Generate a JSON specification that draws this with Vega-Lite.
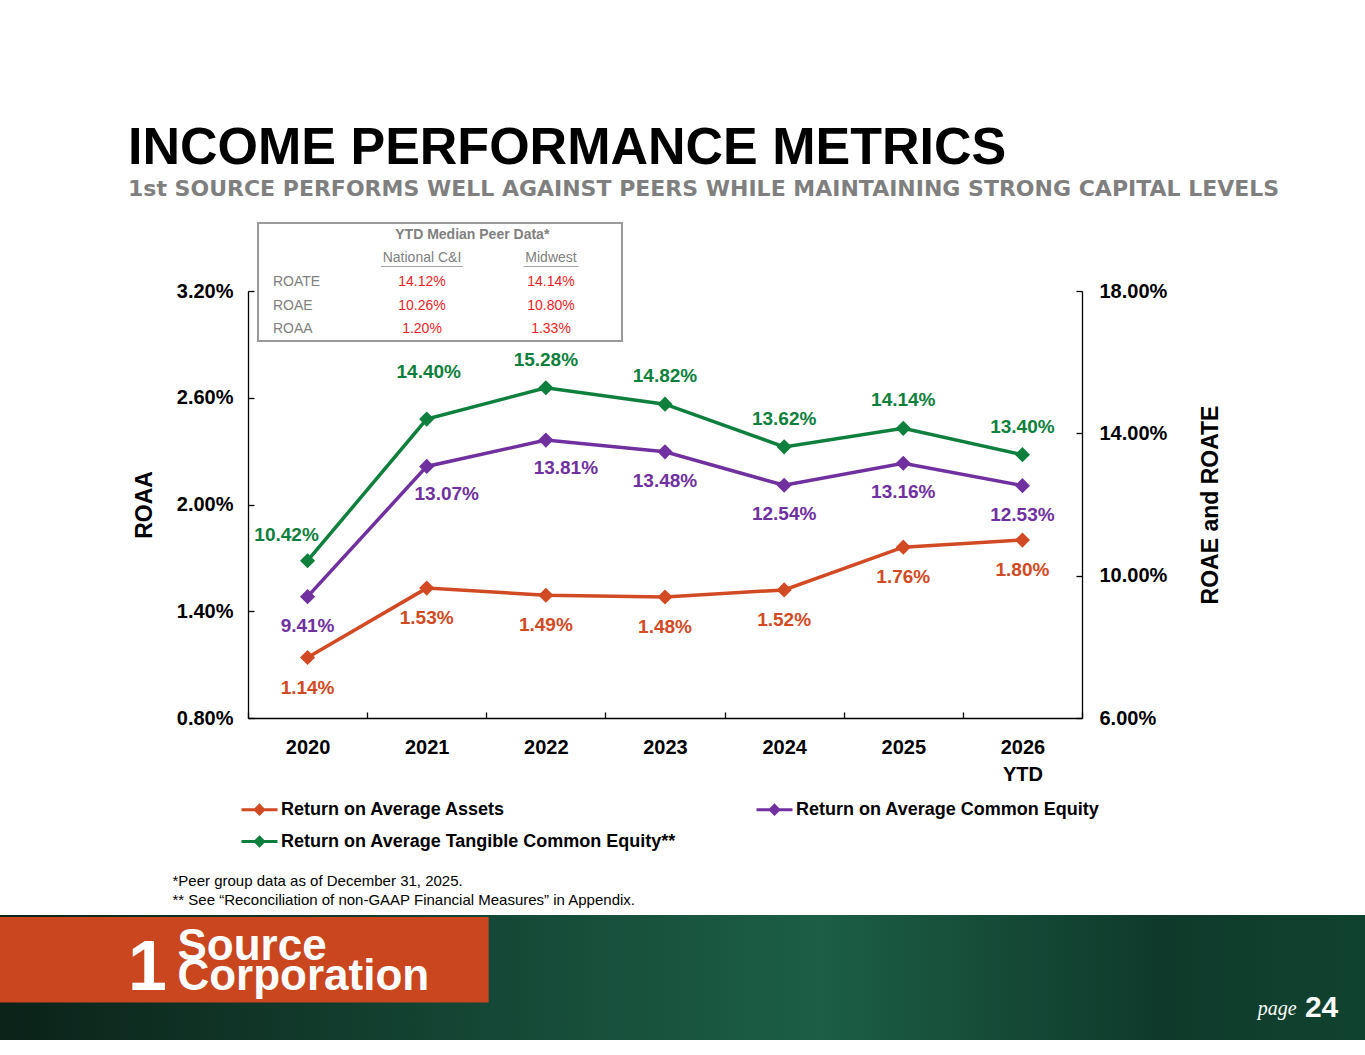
{
  "$schema": "https://vega.github.io/schema/vega-lite/v6.json",
  "width": 834,
  "height": 427,
  "autosize": {"type": "none"},
  "padding": {"left": 248, "top": 291, "right": 283, "bottom": 337},
  "background": "white",
  "datasets": {
    "metrics": [
      {"year": "2020", "series": "Return on Average Assets", "value": 0.0114},
      {"year": "2021", "series": "Return on Average Assets", "value": 0.0153},
      {"year": "2022", "series": "Return on Average Assets", "value": 0.0149},
      {"year": "2023", "series": "Return on Average Assets", "value": 0.0148},
      {"year": "2024", "series": "Return on Average Assets", "value": 0.0152},
      {"year": "2025", "series": "Return on Average Assets", "value": 0.0176},
      {"year": "2026 YTD", "series": "Return on Average Assets", "value": 0.0180},
      {"year": "2020", "series": "Return on Average Common Equity", "value": 0.0941},
      {"year": "2021", "series": "Return on Average Common Equity", "value": 0.1307},
      {"year": "2022", "series": "Return on Average Common Equity", "value": 0.1381},
      {"year": "2023", "series": "Return on Average Common Equity", "value": 0.1348},
      {"year": "2024", "series": "Return on Average Common Equity", "value": 0.1254},
      {"year": "2025", "series": "Return on Average Common Equity", "value": 0.1316},
      {"year": "2026 YTD", "series": "Return on Average Common Equity", "value": 0.1253},
      {"year": "2020", "series": "Return on Average Tangible Common Equity**", "value": 0.1042},
      {"year": "2021", "series": "Return on Average Tangible Common Equity**", "value": 0.1440},
      {"year": "2022", "series": "Return on Average Tangible Common Equity**", "value": 0.1528},
      {"year": "2023", "series": "Return on Average Tangible Common Equity**", "value": 0.1482},
      {"year": "2024", "series": "Return on Average Tangible Common Equity**", "value": 0.1362},
      {"year": "2025", "series": "Return on Average Tangible Common Equity**", "value": 0.1414},
      {"year": "2026 YTD", "series": "Return on Average Tangible Common Equity**", "value": 0.1340}
    ],
    "peers": [
      {"row": "ROATE", "national": "14.12%", "midwest": "14.14%"},
      {"row": "ROAE", "national": "10.26%", "midwest": "10.80%"},
      {"row": "ROAA", "national": "1.20%", "midwest": "1.33%"}
    ]
  },
  "title": {
    "text": "INCOME PERFORMANCE METRICS",
    "subtitle": "1st SOURCE PERFORMS WELL AGAINST PEERS WHILE MAINTAINING STRONG CAPITAL LEVELS",
    "anchor": "start",
    "frame": "group",
    "dx": -120,
    "offset": 21,
    "font": "Liberation Sans",
    "fontSize": 52,
    "fontWeight": "bold",
    "color": "#000000",
    "subtitleFont": "DejaVu Sans",
    "subtitleFontSize": 22,
    "subtitleFontWeight": "bold",
    "subtitleColor": "#7f7f7f",
    "subtitlePadding": 4
  },
  "config": {
    "font": "Liberation Sans",
    "view": {"stroke": null},
    "axis": {"grid": false}
  },
  "resolve": {"scale": {"x": "independent", "y": "independent"}},
  "layer": [
    {
      "data": {"name": "metrics"},
      "resolve": {"scale": {"y": "independent"}},
      "encoding": {
        "x": {
          "field": "year",
          "type": "ordinal",
          "bandPosition": 0.5,
          "scale": {"type": "band", "domain": ["2020", "2021", "2022", "2023", "2024", "2025", "2026 YTD"], "paddingInner": 0, "paddingOuter": 0},
          "axis": {
            "orient": "bottom",
            "labelAngle": 0,
            "labelExpr": "isValid(datum.value) ? split(datum.value, ' ') : ''",
            "labelFontSize": 20,
            "labelFontWeight": "bold",
            "labelColor": "#000000",
            "labelPadding": 25,
            "labelLineHeight": 27,
            "labelBaseline": "top",
            "tickBand": "extent",
            "tickSize": -6,
            "tickColor": "#000000",
            "tickWidth": 1.3,
            "domainColor": "#000000",
            "domainWidth": 1.3,
            "title": ["*Peer group data as of December 31, 2025.", "** See “Reconciliation of non-GAAP Financial Measures” in Appendix."],
            "titleX": -76,
            "titleY": 155,
            "titleAlign": "left",
            "titleBaseline": "top",
            "titleFontSize": 15,
            "titleFontWeight": "normal",
            "titleColor": "#000000",
            "titleLineHeight": 19
          }
        }
      },
      "layer": [
        {
          "transform": [{"filter": "datum.series == 'Return on Average Assets'"}],
          "encoding": {
            "y": {
              "field": "value",
              "type": "quantitative",
              "scale": {"domain": [0.008, 0.032], "nice": false, "zero": false},
              "axis": {
                "orient": "left",
                "values": [0.008, 0.014, 0.02, 0.026, 0.032],
                "format": ".2%",
                "title": "ROAA",
                "titleFontSize": 23,
                "titleFontWeight": "bold",
                "titleColor": "#000000",
                "titlePadding": 20,
                "labelFontSize": 20,
                "labelFontWeight": "bold",
                "labelColor": "#000000",
                "labelPadding": 21,
                "tickSize": -6,
                "tickColor": "#000000",
                "tickWidth": 1.3,
                "domainColor": "#000000",
                "domainWidth": 1.3
              }
            }
          },
          "layer": [
            {
              "mark": {"type": "line", "strokeWidth": 3.5},
              "encoding": {
                "color": {
                  "field": "series",
                  "type": "nominal",
                  "scale": {
                    "domain": ["Return on Average Assets", "Return on Average Tangible Common Equity**", "Return on Average Common Equity"],
                    "range": ["#D24A23", "#0E7F3C", "#7030A0"]
                  },
                  "legend": {
                    "orient": "none",
                    "legendX": -5,
                    "legendY": 502,
                    "columns": 2,
                    "columnPadding": 73,
                    "rowPadding": 5,
                    "padding": 0,
                    "title": null,
                    "labelFontSize": 18,
                    "labelFontWeight": "bold",
                    "labelColor": "#000000",
                    "labelLimit": 0,
                    "labelOffset": 5,
                    "symbolType": "M-1.2,0H1.2M0,-0.28L0.28,0L0,0.28L-0.28,0Z",
                    "symbolSize": 900,
                    "symbolStrokeWidth": 3
                  }
                }
              }
            },
            {
              "mark": {"type": "point", "shape": "diamond", "filled": true, "size": 230, "opacity": 1},
              "encoding": {"color": {"field": "series", "type": "nominal"}}
            },
            {
              "mark": {"type": "text", "dy": 30, "fontSize": 19, "fontWeight": "bold", "color": "#D24A23"},
              "encoding": {"text": {"field": "value", "type": "quantitative", "format": ".2%"}}
            }
          ]
        },
        {
          "transform": [{"filter": "datum.series != 'Return on Average Assets'"}],
          "encoding": {
            "y": {
              "field": "value",
              "type": "quantitative",
              "scale": {"domain": [0.06, 0.18], "nice": false, "zero": false},
              "axis": {
                "orient": "right",
                "values": [0.06, 0.10, 0.14, 0.18],
                "format": ".2%",
                "title": "ROAE and ROATE",
                "titleAngle": 270,
                "titleFontSize": 23,
                "titleFontWeight": "bold",
                "titleColor": "#000000",
                "titlePadding": 56,
                "labelFontSize": 20,
                "labelFontWeight": "bold",
                "labelColor": "#000000",
                "labelPadding": 23,
                "tickSize": -6,
                "tickColor": "#000000",
                "tickWidth": 1.3,
                "domainColor": "#000000",
                "domainWidth": 1.3
              }
            }
          },
          "layer": [
            {
              "mark": {"type": "line", "strokeWidth": 3.5},
              "encoding": {"color": {"field": "series", "type": "nominal"}}
            },
            {
              "mark": {"type": "point", "shape": "diamond", "filled": true, "size": 230, "opacity": 1},
              "encoding": {"color": {"field": "series", "type": "nominal"}}
            },
            {
              "transform": [{"filter": "datum.series == 'Return on Average Common Equity' && datum.year != '2021' && datum.year != '2022'"}],
              "mark": {"type": "text", "dy": 29, "fontSize": 19, "fontWeight": "bold", "color": "#7030A0"},
              "encoding": {"text": {"field": "value", "type": "quantitative", "format": ".2%"}}
            },
            {
              "transform": [{"filter": "datum.series == 'Return on Average Common Equity' && (datum.year == '2021' || datum.year == '2022')"}],
              "mark": {"type": "text", "dx": 20, "dy": 28, "fontSize": 19, "fontWeight": "bold", "color": "#7030A0"},
              "encoding": {"text": {"field": "value", "type": "quantitative", "format": ".2%"}}
            },
            {
              "transform": [{"filter": "datum.series == 'Return on Average Tangible Common Equity**' && datum.year != '2020' && datum.year != '2021'"}],
              "mark": {"type": "text", "dy": -28, "fontSize": 19, "fontWeight": "bold", "color": "#0E7F3C"},
              "encoding": {"text": {"field": "value", "type": "quantitative", "format": ".2%"}}
            },
            {
              "transform": [{"filter": "datum.series == 'Return on Average Tangible Common Equity**' && datum.year == '2020'"}],
              "mark": {"type": "text", "dx": -21, "dy": -26, "fontSize": 19, "fontWeight": "bold", "color": "#0E7F3C"},
              "encoding": {"text": {"field": "value", "type": "quantitative", "format": ".2%"}}
            },
            {
              "transform": [{"filter": "datum.series == 'Return on Average Tangible Common Equity**' && datum.year == '2021'"}],
              "mark": {"type": "text", "dx": 2, "dy": -47, "fontSize": 19, "fontWeight": "bold", "color": "#0E7F3C"},
              "encoding": {"text": {"field": "value", "type": "quantitative", "format": ".2%"}}
            }
          ]
        }
      ]
    },
    {
      "data": {"values": [{"panel": "YTD Median Peer Data*"}]},
      "mark": {"type": "rect", "filled": false, "color": "#9a9a9a", "strokeWidth": 2},
      "encoding": {
        "x": {"datum": 0, "type": "quantitative", "scale": {"domain": [0, 1], "range": [10, 374], "nice": false, "zero": false}, "axis": null},
        "x2": {"datum": 1},
        "y": {"datum": 0, "type": "quantitative", "scale": {"domain": [0, 1], "range": [-68, 50], "nice": false, "zero": false}, "axis": null},
        "y2": {"datum": 1}
      }
    },
    {
      "encoding": {
        "y": {
          "field": "row",
          "type": "nominal",
          "scale": {"type": "band", "domain": ["title", "cols", "ROATE", "ROAE", "ROAA"], "range": [-68, 50], "paddingInner": 0, "paddingOuter": 0},
          "axis": null
        }
      },
      "layer": [
        {
          "data": {"values": [{"row": "title", "text": "YTD Median Peer Data*"}]},
          "mark": {"type": "text", "fontSize": 14, "fontWeight": "bold", "color": "#808080", "baseline": "middle"},
          "encoding": {
            "x": {"datum": "national", "bandPosition": 0.89, "type": "nominal", "scale": {"type": "band", "domain": ["metric", "national", "midwest"], "range": [-19.5, 367.5], "paddingInner": 0, "paddingOuter": 0}, "axis": null},
            "text": {"field": "text"}
          }
        },
        {
          "data": {"values": [{"row": "cols", "col": "national", "text": "National C&I"}, {"row": "cols", "col": "midwest", "text": "Midwest"}]},
          "mark": {"type": "text", "fontSize": 14, "color": "#808080", "baseline": "middle"},
          "encoding": {
            "x": {"field": "col", "type": "nominal", "axis": null},
            "text": {"field": "text"}
          }
        },
        {
          "data": {"values": [{"row": "cols", "col": "national"}]},
          "mark": {"type": "tick", "orient": "horizontal", "size": 82, "thickness": 1, "color": "#808080", "yOffset": 8},
          "encoding": {
            "x": {"field": "col", "type": "nominal", "axis": null}
          }
        },
        {
          "data": {"values": [{"row": "cols", "col": "midwest"}]},
          "mark": {"type": "tick", "orient": "horizontal", "size": 55, "thickness": 1, "color": "#808080", "yOffset": 8},
          "encoding": {
            "x": {"field": "col", "type": "nominal", "axis": null}
          }
        },
        {
          "data": {"name": "peers"},
          "mark": {"type": "text", "fontSize": 14, "color": "#808080", "baseline": "middle", "align": "left"},
          "encoding": {
            "x": {"datum": "metric", "bandPosition": 0.345, "type": "nominal", "axis": null},
            "text": {"field": "row"}
          }
        },
        {
          "data": {"name": "peers"},
          "transform": [{"fold": ["national", "midwest"], "as": ["col", "val"]}],
          "mark": {"type": "text", "fontSize": 14, "color": "#EE1C25", "baseline": "middle"},
          "encoding": {
            "x": {"field": "col", "type": "nominal", "axis": null},
            "text": {"field": "val"}
          }
        }
      ]
    },
    {
      "layer": [
        {
          "data": {"values": [{"item": "banner"}]},
          "mark": {
            "type": "rect",
            "color": {
              "gradient": "linear", "x1": 0, "y1": 0, "x2": 1, "y2": 0,
              "stops": [
                {"offset": 0, "color": "#0b2219"},
                {"offset": 0.4, "color": "#164c39"},
                {"offset": 0.6, "color": "#1c5e46"},
                {"offset": 0.85, "color": "#0f3a2b"},
                {"offset": 1, "color": "#10432f"}
              ]
            }
          },
          "encoding": {
            "x": {"datum": 0, "type": "quantitative", "scale": {"domain": [0, 1], "range": [-248, 1117], "nice": false, "zero": false}, "axis": null},
            "x2": {"datum": 1},
            "y": {"datum": 0, "type": "quantitative", "scale": {"domain": [0, 1], "range": [624, 749], "nice": false, "zero": false}, "axis": null},
            "y2": {"datum": 1}
          }
        },
        {
          "data": {"values": [{"item": "logo"}]},
          "mark": {"type": "rect", "color": "#C9461F"},
          "encoding": {
            "x": {"datum": 0, "type": "quantitative"},
            "x2": {"datum": 0.358},
            "y": {"datum": 0.016, "type": "quantitative"},
            "y2": {"datum": 0.7}
          }
        },
        {
          "data": {"values": [{"text": "1"}]},
          "mark": {"type": "text", "fontSize": 70, "fontWeight": "bold", "color": "white", "align": "center", "baseline": "alphabetic"},
          "encoding": {
            "x": {"datum": 0.108, "type": "quantitative"},
            "y": {"datum": 0.6, "type": "quantitative"},
            "text": {"field": "text"}
          }
        },
        {
          "data": {"values": [{"text": ["Source", "Corporation"]}]},
          "mark": {"type": "text", "fontSize": 44, "lineHeight": 30, "fontWeight": "bold", "color": "white", "align": "left", "baseline": "alphabetic"},
          "encoding": {
            "x": {"datum": 0.13, "type": "quantitative"},
            "y": {"datum": 0.36, "type": "quantitative"},
            "text": {"field": "text"}
          }
        },
        {
          "data": {"values": [{"text": "page"}]},
          "mark": {"type": "text", "font": "Liberation Serif", "fontStyle": "italic", "fontSize": 20, "color": "white", "align": "right", "baseline": "alphabetic"},
          "encoding": {
            "x": {"datum": 0.95, "type": "quantitative"},
            "y": {"datum": 0.8, "type": "quantitative"},
            "text": {"field": "text"}
          }
        },
        {
          "data": {"values": [{"text": "24"}]},
          "mark": {"type": "text", "fontSize": 30, "fontWeight": "bold", "color": "white", "align": "left", "baseline": "alphabetic"},
          "encoding": {
            "x": {"datum": 0.956, "type": "quantitative"},
            "y": {"datum": 0.816, "type": "quantitative"},
            "text": {"field": "text"}
          }
        }
      ]
    }
  ]
}
